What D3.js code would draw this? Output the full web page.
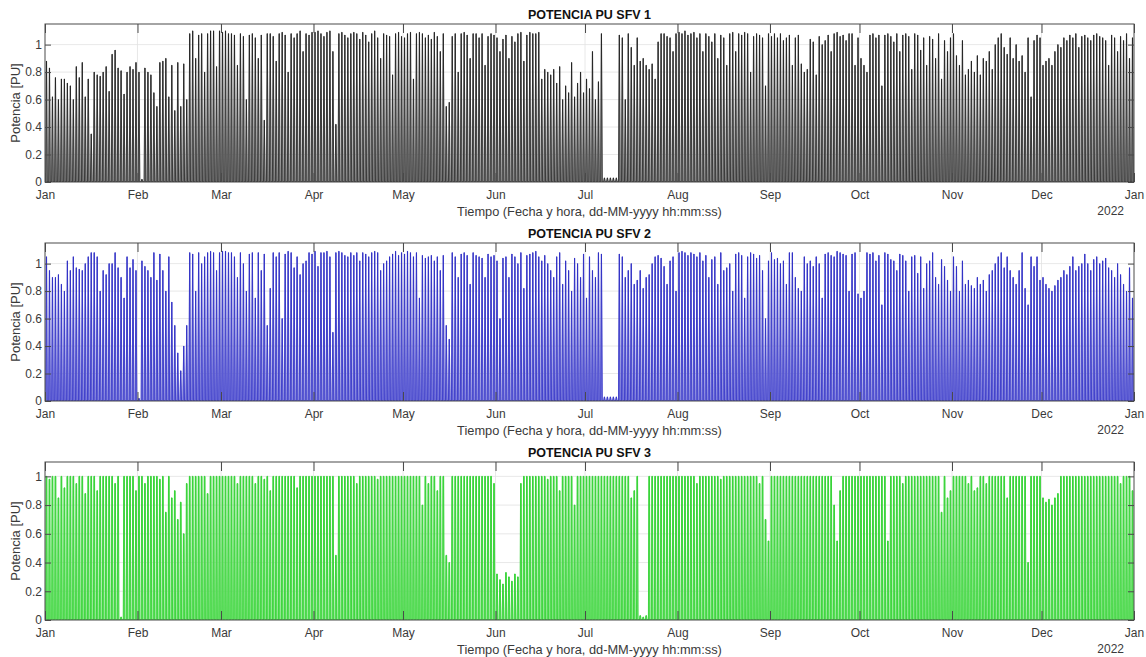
<!DOCTYPE html>
<html>
<head>
<meta charset="utf-8">
<script src="https://cdn.jsdelivr.net/npm/d3@7"></script>
<style>
  html, body { margin: 0; padding: 0; background: #ffffff; }
  svg { display: block; font-family: "Liberation Sans", Arial, Helvetica, sans-serif; }
</style>
</head>
<body>
<svg id="chart" width="1146" height="657"></svg>
<script>
// ---------------- DATA ----------------
const titulos = ["POTENCIA PU SFV 1", "POTENCIA PU SFV 2", "POTENCIA PU SFV 3"];
const etiquetaY = "Potencia [PU]";
const etiquetaX = "Tiempo (Fecha y hora, dd-MM-yyyy hh:mm:ss)";
const etiquetaAnio = "2022";
const mesesTicks = ["Jan","Feb","Mar","Apr","May","Jun","Jul","Aug","Sep","Oct","Nov","Dec","Jan"];
const yTicks = [0, 0.2, 0.4, 0.6, 0.8, 1];
const yMax = [1.15, 1.15, 1.1];
// hours of the daily profile: sunrise, start of peak, end of peak, sunset (SFV 3 clips at 1 PU)
const horasPerfil = [[5.5, 11.5, 12.5, 18.5], [5.5, 11.5, 12.5, 18.5], [6, 9.5, 14.5, 18]];

// Daily peak power (PU), year 2021, one row per month
const sfv1 = [
  0.88,0.83,0.62,0.76,0.60,0.75,0.75,0.72,0.70,0.60,0.84,0.76,0.87,0.62,0.75,0.35,0.80,0.78,0.77,0.80,0.84,0.66,0.93,0.96,0.83,0.81,0.64,0.80,0.84,0.82,0.87,
  0.80,0.02,0.83,0.80,0.78,0.65,0.55,0.87,0.88,0.90,0.62,0.85,0.52,0.87,0.55,0.86,0.60,1.08,1.10,0.90,1.07,1.08,0.80,1.08,1.10,1.10,0.84,1.10,
  1.09,1.10,1.08,1.08,1.07,0.85,1.08,1.06,0.60,1.07,1.08,1.05,0.90,1.07,0.45,1.08,1.08,1.06,0.88,1.08,1.09,1.07,0.80,1.08,1.05,1.08,1.10,0.95,1.08,1.07,1.09,
  1.09,1.10,1.08,1.06,1.09,1.10,0.95,0.42,1.08,1.09,1.07,1.05,1.08,1.09,1.08,1.04,1.09,1.07,1.02,1.08,1.10,1.05,0.90,1.08,1.07,1.06,0.78,1.08,1.09,1.06,
  1.05,1.08,1.09,0.75,1.08,1.09,1.08,1.05,1.07,1.04,1.09,1.06,0.95,1.08,0.55,0.58,1.06,1.08,0.80,1.08,1.09,1.07,0.90,1.08,1.08,1.05,1.08,0.85,1.06,1.08,1.07,
  1.05,0.95,1.04,1.07,0.90,1.06,1.02,1.08,1.09,0.88,1.07,1.09,1.08,1.08,1.09,0.75,0.82,0.80,0.78,0.82,0.72,0.84,0.60,0.70,0.65,0.87,0.62,0.72,0.80,0.65,
  0.75,0.68,0.95,0.60,0.73,1.08,0.03,0.03,0.03,0.03,0.03,1.07,1.05,0.60,1.08,0.98,0.85,1.05,0.88,0.90,0.85,0.82,0.86,0.75,1.02,1.08,1.08,1.06,1.05,0.95,1.08,
  1.09,1.08,1.10,1.07,1.08,1.09,1.05,1.08,0.95,1.08,1.06,1.02,1.08,0.90,1.07,1.05,0.85,1.08,1.09,0.95,1.08,1.07,1.09,1.08,0.80,1.06,1.08,1.07,1.05,0.70,1.08,
  1.06,1.08,1.05,1.08,1.03,1.05,1.07,0.85,1.05,1.07,0.86,0.80,0.82,1.04,1.02,0.78,1.06,1.00,1.03,1.07,0.95,1.08,1.09,1.06,1.07,1.03,1.08,1.08,0.85,1.05,
  0.90,0.85,0.80,1.07,1.08,1.05,1.07,0.70,1.07,1.08,1.06,1.02,1.08,0.95,1.07,1.08,1.06,0.82,1.08,1.07,0.96,1.05,0.85,1.06,1.04,0.90,1.08,0.75,1.03,0.95,1.05,
  1.08,0.92,0.85,1.03,0.78,0.82,0.88,0.80,0.92,0.78,0.90,0.88,0.95,0.82,1.00,1.05,1.08,0.98,0.93,1.05,0.90,1.00,0.88,0.92,0.80,1.05,0.62,1.03,1.07,1.05,
  0.85,0.88,0.90,0.85,0.95,1.00,0.98,1.05,1.03,1.07,1.05,1.08,0.98,1.06,1.07,1.05,1.03,1.07,1.08,1.06,1.05,1.03,0.85,1.07,1.05,0.95,1.06,1.03,1.08,0.90,1.05
];
const sfv2 = [
  1.05,0.95,0.90,0.90,0.92,0.85,0.80,1.02,0.95,1.05,0.97,0.96,0.95,1.00,1.05,1.08,1.08,1.05,0.80,0.95,0.92,1.00,1.00,1.08,0.97,0.90,0.75,1.05,0.97,1.03,0.95,
  0.02,1.02,0.98,0.95,0.90,1.08,0.88,1.07,0.95,0.80,1.05,0.72,0.55,0.35,0.22,0.40,0.55,1.08,1.07,0.80,1.08,1.00,1.05,1.08,1.09,1.08,0.95,1.08,
  1.09,1.09,1.08,1.08,1.05,0.90,1.08,1.00,0.80,1.07,1.08,0.75,1.08,0.95,1.07,0.55,0.82,1.08,1.05,1.08,0.60,1.07,1.09,1.08,0.97,1.05,0.92,1.00,1.02,1.08,1.07,
  1.09,0.98,1.08,1.08,1.09,1.05,0.50,1.08,1.09,1.08,1.06,1.05,1.08,1.06,1.08,1.02,1.08,1.07,1.05,1.08,1.09,1.08,0.95,1.00,1.02,1.05,1.07,1.09,1.06,1.08,
  1.07,1.09,1.08,1.05,1.08,0.75,1.06,1.04,1.05,1.06,1.02,1.05,0.95,1.06,0.55,0.45,1.08,1.05,0.90,1.07,1.08,1.06,0.85,1.08,1.06,1.05,1.04,0.90,1.07,1.05,1.06,
  1.02,0.60,1.04,1.05,0.90,1.07,1.05,1.00,1.08,0.82,1.06,1.07,1.08,1.09,1.05,1.02,1.06,1.00,0.95,0.90,1.05,1.08,0.85,1.02,0.95,0.80,1.04,1.00,0.90,1.07,
  0.75,1.05,0.95,0.90,1.08,1.07,0.03,0.03,0.03,0.03,0.03,1.07,1.05,0.90,0.95,1.00,0.85,0.88,0.95,0.82,0.90,0.92,1.00,1.05,1.06,1.04,0.98,0.85,1.02,1.05,0.80,
  1.08,1.09,1.08,1.06,1.08,1.07,1.05,1.08,1.02,1.06,0.90,1.03,1.05,0.85,1.08,0.95,0.97,1.00,0.80,1.07,1.08,1.06,0.75,1.05,1.08,1.07,1.04,1.06,0.95,0.60,1.02,
  1.08,1.03,1.04,1.00,1.02,0.85,1.08,1.08,0.90,0.82,0.80,1.05,1.00,1.02,0.98,1.05,1.00,0.75,1.07,1.08,1.06,1.05,1.09,1.08,1.07,1.06,0.80,1.07,1.08,0.78,
  0.75,0.80,1.08,1.07,1.08,1.02,1.06,0.70,1.08,1.07,1.03,1.02,0.95,1.07,1.06,1.02,0.80,1.05,1.06,0.93,1.05,0.82,1.00,1.02,1.08,0.90,0.85,1.03,0.98,0.88,0.80,
  1.05,0.98,0.80,1.02,0.85,0.88,0.84,0.82,0.90,0.85,0.88,0.80,0.92,0.95,1.00,1.05,1.08,0.97,1.05,0.95,0.90,0.85,0.95,1.08,0.82,0.70,1.05,0.98,1.05,0.88,
  0.90,0.85,0.82,0.80,0.84,0.88,0.90,0.95,0.92,0.98,1.05,0.95,0.98,1.00,1.07,1.00,0.95,1.03,1.05,1.00,1.02,1.04,0.97,0.95,0.90,1.00,0.92,0.85,0.80,0.97,0.75
];
const sfv3 = [
  1.00,0.98,1.00,1.00,0.85,1.00,0.92,1.00,1.00,1.00,0.95,1.00,1.00,0.88,1.00,1.00,1.00,0.90,1.00,1.00,1.00,1.00,1.00,0.95,1.00,0.02,1.00,1.00,1.00,1.00,0.90,
  1.00,1.00,0.95,1.00,1.00,1.00,1.00,0.98,1.00,0.75,1.00,0.85,0.90,0.70,0.82,0.60,0.95,1.00,1.00,1.00,1.00,1.00,1.00,0.88,1.00,1.00,1.00,1.00,
  1.00,1.00,1.00,1.00,1.00,0.95,1.00,1.00,1.00,1.00,1.00,0.95,1.00,1.00,0.98,1.00,0.90,1.00,1.00,1.00,1.00,1.00,1.00,1.00,1.00,0.92,1.00,1.00,1.00,1.00,1.00,
  1.00,1.00,1.00,1.00,1.00,1.00,1.00,0.45,1.00,1.00,1.00,1.00,1.00,1.00,0.95,1.00,1.00,1.00,1.00,1.00,1.00,0.98,1.00,1.00,1.00,1.00,1.00,1.00,1.00,1.00,
  1.00,1.00,1.00,1.00,1.00,1.00,0.80,1.00,0.95,1.00,1.00,0.90,1.00,1.00,0.45,0.40,1.00,1.00,1.00,1.00,1.00,1.00,1.00,1.00,1.00,1.00,1.00,1.00,1.00,1.00,0.95,
  0.32,0.28,0.25,0.33,0.30,0.27,0.32,0.30,0.95,1.00,1.00,1.00,1.00,1.00,1.00,1.00,1.00,0.98,1.00,1.00,1.00,0.90,1.00,1.00,1.00,1.00,0.80,1.00,1.00,1.00,
  1.00,1.00,1.00,1.00,1.00,1.00,1.00,1.00,1.00,1.00,1.00,1.00,1.00,1.00,1.00,0.85,0.90,1.00,0.03,0.02,0.03,1.00,1.00,1.00,1.00,1.00,1.00,1.00,1.00,1.00,1.00,
  1.00,1.00,1.00,1.00,1.00,1.00,0.95,1.00,1.00,1.00,1.00,1.00,1.00,1.00,0.98,1.00,1.00,1.00,1.00,1.00,1.00,1.00,1.00,1.00,1.00,1.00,1.00,0.95,1.00,0.70,0.55,
  1.00,1.00,1.00,1.00,1.00,1.00,1.00,1.00,1.00,1.00,1.00,1.00,1.00,1.00,1.00,1.00,1.00,1.00,1.00,1.00,1.00,0.80,0.55,0.90,1.00,1.00,1.00,1.00,1.00,1.00,
  1.00,1.00,1.00,1.00,1.00,1.00,1.00,1.00,1.00,0.55,1.00,1.00,1.00,1.00,0.95,1.00,1.00,1.00,1.00,1.00,1.00,1.00,1.00,1.00,1.00,1.00,1.00,0.75,1.00,0.85,0.90,
  1.00,1.00,1.00,1.00,1.00,0.95,1.00,0.90,0.92,1.00,1.00,0.95,1.00,1.00,1.00,1.00,1.00,1.00,0.85,1.00,1.00,1.00,1.00,1.00,1.00,0.40,1.00,1.00,1.00,1.00,
  0.85,0.82,0.84,0.80,0.85,0.88,1.00,1.00,1.00,1.00,1.00,1.00,1.00,1.00,1.00,1.00,1.00,1.00,1.00,1.00,1.00,1.00,1.00,1.00,1.00,1.00,0.95,1.00,1.00,1.00,0.90
];
const series = [sfv1, sfv2, sfv3];
series.forEach((s, i) => { if (s.length !== 365) console.error("serie " + (i + 1) + " tiene " + s.length + " valores"); });

// ---------------- STYLE / LAYOUT ----------------
const colLinea = ["#111111", "#2222c0", "#22cc22"];
const colRelleno = ["#858585", "#7a7ade", "#72e472"];
const left = 45, right = 1134;
const tops = [24, 243, 462];
const ph = 158;
const tickLen = 9;
const axCol = "#4a4a4a", txtCol = "#3a3a3a";

const svg = d3.select("#chart");
const inicio = Date.UTC(2021, 0, 1), fin = Date.UTC(2022, 0, 1);
const x = d3.scaleUtc().domain([new Date(inicio), new Date(fin)]).range([left, right]);
const mesesFechas = d3.range(13).map(m => new Date(Date.UTC(2021, m, 1)));

series.forEach((datos, p) => {
  const top = tops[p], bottom = top + ph;
  const y = d3.scaleLinear().domain([0, yMax[p]]).range([bottom, top]);
  const g = svg.append("g");

  const cid = "clip" + p;
  svg.append("clipPath").attr("id", cid).append("rect")
    .attr("x", left).attr("y", top).attr("width", right - left).attr("height", ph);

  // grid
  g.append("g").selectAll("line").data(yTicks.filter(v => v > 0)).join("line")
    .attr("x1", left).attr("x2", right).attr("y1", d => y(d)).attr("y2", d => y(d))
    .attr("stroke", "#e2e2e2").attr("stroke-width", 0.8);
  g.append("g").selectAll("line").data(mesesFechas.slice(1, 12)).join("line")
    .attr("x1", d => x(d)).attr("x2", d => x(d)).attr("y1", top).attr("y2", bottom)
    .attr("stroke", "#e2e2e2").attr("stroke-width", 0.8);

  // daily profile points
  const hp = horasPerfil[p];
  const pts = [{ t: 0, v: 0 }];
  datos.forEach((pico, d) => {
    pts.push({ t: d + hp[0] / 24, v: 0 });
    pts.push({ t: d + hp[1] / 24, v: pico });
    pts.push({ t: d + hp[2] / 24, v: pico });
    pts.push({ t: d + hp[3] / 24, v: 0 });
  });
  pts.push({ t: 365, v: 0 });
  const xt = t => x(new Date(inicio + t * 86400000));

  const area = d3.area().x(d => xt(d.t)).y0(y(0)).y1(d => y(d.v));
  const linea = d3.line().x(d => xt(d.t)).y(d => y(d.v));
  const gd = g.append("g").attr("clip-path", `url(#${cid})`);
  gd.append("path").attr("d", area(pts)).attr("fill", colRelleno[p]).attr("stroke", colRelleno[p]).attr("stroke-width", 1);
  gd.append("path").attr("d", linea(pts)).attr("fill", "none").attr("stroke", colLinea[p])
    .attr("stroke-width", 0.75).attr("stroke-opacity", 0.85);

  // axes box
  g.append("rect").attr("x", left).attr("y", top).attr("width", right - left).attr("height", ph)
    .attr("fill", "none").attr("stroke", axCol).attr("stroke-width", 1);

  // bottom x axis
  const xAxis = d3.axisBottom(x).tickValues(mesesFechas)
    .tickFormat((d, i) => mesesTicks[i]).tickSizeInner(-tickLen).tickSizeOuter(0).tickPadding(8);
  const gx = g.append("g").attr("transform", `translate(0,${bottom})`).call(xAxis);
  gx.select(".domain").remove();
  gx.selectAll("line").attr("stroke", axCol);
  gx.selectAll("text").attr("font-size", 12).attr("fill", txtCol).attr("font-family", "Liberation Sans, Arial, sans-serif");

  // top ticks
  const xTop = d3.axisTop(x).tickValues(mesesFechas).tickFormat("").tickSizeInner(-tickLen).tickSizeOuter(0);
  const gxt = g.append("g").attr("transform", `translate(0,${top})`).call(xTop);
  gxt.select(".domain").remove();
  gxt.selectAll("line").attr("stroke", axCol);

  // y axes
  const yAxis = d3.axisLeft(y).tickValues(yTicks).tickFormat(d3.format("~g"))
    .tickSizeInner(-6).tickSizeOuter(0).tickPadding(3);
  const gy = g.append("g").attr("transform", `translate(${left},0)`).call(yAxis);
  gy.select(".domain").remove();
  gy.selectAll("line").attr("stroke", axCol);
  gy.selectAll("text").attr("font-size", 12).attr("fill", txtCol).attr("font-family", "Liberation Sans, Arial, sans-serif");

  const yRight = d3.axisRight(y).tickValues(yTicks).tickFormat("").tickSizeInner(-6).tickSizeOuter(0);
  const gyr = g.append("g").attr("transform", `translate(${right},0)`).call(yRight);
  gyr.select(".domain").remove();
  gyr.selectAll("line").attr("stroke", axCol);

  // title
  g.append("text").attr("x", (left + right) / 2).attr("y", top - 5)
    .attr("text-anchor", "middle").attr("font-size", 12.5).attr("font-weight", "bold").attr("fill", "#111")
    .text(titulos[p]);
  // ylabel
  g.append("text").attr("transform", `translate(20,${(top + bottom) / 2}) rotate(-90)`)
    .attr("text-anchor", "middle").attr("font-size", 13).attr("fill", txtCol)
    .text(etiquetaY);
  // xlabel
  g.append("text").attr("x", (left + right) / 2).attr("y", bottom + 33.5)
    .attr("text-anchor", "middle").attr("font-size", 12.8).attr("fill", txtCol)
    .text(etiquetaX);
  // secondary year label
  g.append("text").attr("x", right - 10).attr("y", bottom + 33)
    .attr("text-anchor", "end").attr("font-size", 12).attr("fill", txtCol)
    .text(etiquetaAnio);
});
</script>
</body>
</html>
